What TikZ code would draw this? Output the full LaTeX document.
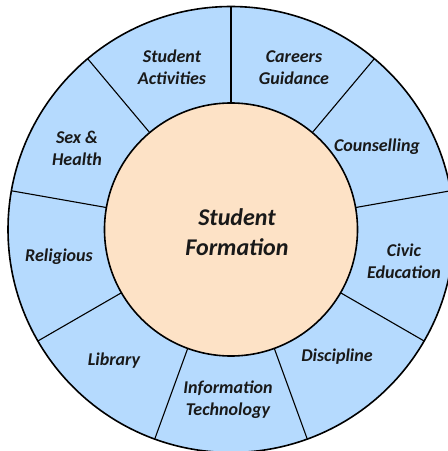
\documentclass[tikz,border=0pt]{standalone}
\usepackage{fontspec}
\setmainfont{Carlito}
\usetikzlibrary{calc}
\definecolor{ringblue}{RGB}{181,218,254}
\definecolor{peach}{RGB}{253,226,198}
\begin{document}
\begin{tikzpicture}[x=1pt,y=1pt,
  lbl/.style={font=\fontsize{18}{22}\selectfont\bfseries\itshape, align=center, text=black!90, inner sep=0pt},
  centerlbl/.style={font=\fontsize{24}{30}\selectfont\bfseries\itshape, align=center, text=black!90, inner sep=0pt},
  divider/.style={line width=1.1pt, black}]
\useasboundingbox (0,0) rectangle (448,451);
\coordinate (c) at (231,221.5);
\fill[ringblue] (c) circle (223);
\draw[line width=1.6pt] (c) circle (223);
\foreach \a in {90,50,10,-30,-70,-110,-150,170,130}{
  \draw[divider] ($(c)+(\a:126)$) -- ($(c)+(\a:223)$);
}
\fill[peach] (c) circle (126.5);
\draw[line width=1.6pt] (c) circle (126.5);
\node[centerlbl] (sf) at (237,218.5) {Student\\Formation};
\node[lbl] (sa) at (172,383.5) {Student\\Activities};
\node[lbl] (cg) at (294,383.5) {Careers\\Guidance};
\node[lbl] (co) at (377,304) {Counselling};
\node[lbl] (ce) at (404,190) {Civic\\Education};
\node[lbl] (di) at (337,94) {Discipline};
\node[lbl] (it) at (228,51.5) {Information\\Technology};
\node[lbl] (li) at (114,90) {Library};
\node[lbl] (re) at (59,194) {Religious};
\node[lbl] (sh) at (77,303) {Sex \&\\Health};
\end{tikzpicture}
\end{document}
